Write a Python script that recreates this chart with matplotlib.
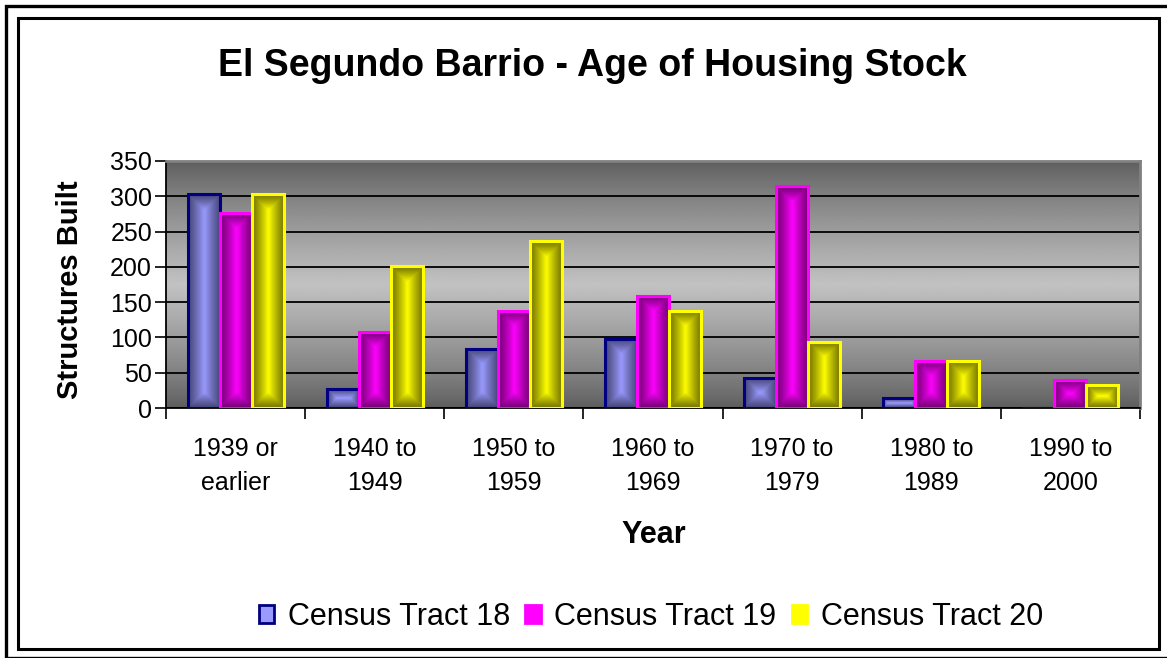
import numpy as np
import matplotlib
matplotlib.use('Agg')
from matplotlib import pyplot as plt
from matplotlib.patches import Rectangle, Patch
from matplotlib.colors import to_rgb

plt.rcParams['font.family'] = ['Liberation Sans', 'DejaVu Sans']

# data
categories = ['1939 or\nearlier', '1940 to\n1949', '1950 to\n1959', '1960 to\n1969',
              '1970 to\n1979', '1980 to\n1989', '1990 to\n2000']
tract_18 = [303, 27, 84, 98, 43, 14, 0]
tract_19 = [277, 108, 138, 159, 314, 67, 40]
tract_20 = [303, 201, 236, 138, 94, 67, 33]
series_names = ['Census Tract 18', 'Census Tract 19', 'Census Tract 20']
yticks = [0, 50, 100, 150, 200, 250, 300, 350]

# (center colour, edge-dark colour, outline colour)
styles = [('#9a9aff', '#474778', '#000080'),
          ('#ff00ff', '#740074', '#ff00ff'),
          ('#ffff00', '#747400', '#ffff00')]

W, H = 1167, 658
fig = plt.figure(figsize=(W / 100, H / 100), dpi=100)
ax = fig.add_axes([166 / W, 1 - 408 / H, (1140 - 166) / W, (408 - 161) / H])

# frames around the chart
fig.patches.append(Rectangle((5.5 / W, 0), 1.2, 1 - 5.5 / H, transform=fig.transFigure,
                             fill=False, ec='black', lw=2.4, zorder=0))
fig.patches.append(Rectangle((18 / W, 1 - 649 / H), (1158.5 - 18) / W, (649 - 18) / H,
                             transform=fig.transFigure, fill=False, ec='black', lw=2.2, zorder=0))

# plot area background: vertical grey gradient, light in the middle
g = np.linspace(-1, 1, 256)
bg = 0.36 + (0.76 - 0.36) * (1 - np.abs(g)) ** 0.8
ax.imshow(bg[:, None], cmap='gray', vmin=0, vmax=1, aspect='auto',
          extent=(0, 1, 0, 1), transform=ax.transAxes, zorder=0)

ax.set_xlim(-0.5, len(categories) - 0.5)
ax.set_ylim(0, 350)
ax.set_yticks(yticks)
ax.yaxis.grid(True, color='black', lw=1.3, zorder=1)
ax.set_axisbelow(True)

x = np.arange(len(categories))
bw = 0.23
fig.canvas.draw()
for i, (vals, (c_hi, c_lo, c_ed)) in enumerate(zip([tract_18, tract_19, tract_20], styles)):
    bars = ax.bar(x + (i - 1) * bw, vals, bw, facecolor='none', edgecolor=c_ed, lw=2.2, zorder=3)
    hi = np.array(to_rgb(c_hi))
    lo = np.array(to_rgb(c_lo))
    for b in bars:
        if b.get_height() <= 0:
            continue
        x0, y0 = b.get_x(), b.get_y()
        x1, y1 = x0 + b.get_width(), y0 + b.get_height()
        (px0, py0), (px1, py1) = ax.transData.transform([(x0, y0), (x1, y1)])
        wp, hp = max(int(abs(px1 - px0)), 2), max(int(abs(py1 - py0)), 2)
        xx = np.arange(wp) + 0.5
        yy = np.arange(hp) + 0.5
        dx = np.minimum(xx, wp - xx)[None, :]
        dy = np.minimum(yy, hp - yy)[:, None]
        t = np.minimum(dx, dy) / (min(wp, hp) / 2.0)
        t = np.clip(t, 0, 1) ** 1.2
        img = lo + (hi - lo) * t[..., None]
        ax.imshow(img, extent=(x0, x1, y0, y1), aspect='auto', zorder=2,
                  interpolation='bilinear')
ax.set_xlim(-0.5, len(categories) - 0.5)
ax.set_ylim(0, 350)

# category ticks at the boundaries, labels at centres
ax.set_xticks(np.arange(len(categories) + 1) - 0.5)
ax.set_xticklabels([])
ax.set_xticks(x, minor=True)
ax.set_xticklabels(categories, minor=True, fontsize=18, linespacing=1.5)
ax.tick_params(axis='x', which='major', length=8, width=1.2, color='black')
ax.tick_params(axis='x', which='minor', length=0, pad=21)
ax.tick_params(axis='y', length=8, width=1.2, labelsize=18, pad=2)

for s in ['top', 'right']:
    ax.spines[s].set_color('#808080')
    ax.spines[s].set_linewidth(2)
ax.spines['left'].set_color('black')
ax.spines['bottom'].set_color('black')
ax.spines['left'].set_linewidth(1.3)
ax.spines['bottom'].set_linewidth(1.3)

fig.text(592 / W, 1 - 66 / H, 'El Segundo Barrio - Age of Housing Stock',
         ha='center', va='center', fontsize=27, fontweight='bold')
fig.text(70 / W, 1 - 290 / H, 'Structures Built', rotation=90,
         ha='center', va='center', fontsize=21, fontweight='bold')
fig.text(654 / W, 1 - 535 / H, 'Year', ha='center', va='center',
         fontsize=22, fontweight='bold')

handles = [Patch(facecolor=s[0], edgecolor=s[2], lw=2) for s in styles]
fig.legend(handles, series_names, loc='center', bbox_to_anchor=(651 / W, 1 - 617 / H),
           ncol=3, frameon=False, fontsize=22, handlelength=0.5, handleheight=0.5,
           handletextpad=0.45, columnspacing=0.5)

fig.savefig('out.png', dpi=100)
